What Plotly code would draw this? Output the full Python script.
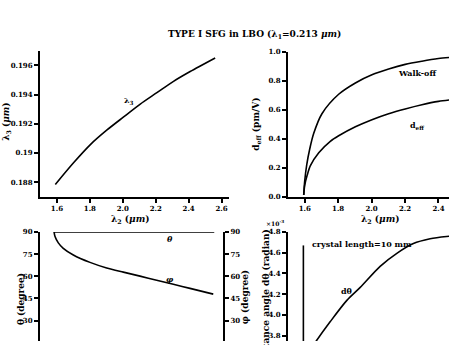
import plotly.graph_objects as go

W, H = 449, 345

# ---------------- data ----------------
# top-left: lambda3 vs lambda2
lam2_a = [1.59, 1.702, 1.803, 1.904, 2.005, 2.106, 2.207, 2.308, 2.409, 2.561]
lam3 = [0.18785, 0.18935, 0.19058, 0.19158, 0.19247, 0.19335, 0.19413, 0.19491, 0.19558, 0.19651]

# top-right: normalised walk-off and d_eff
lam2_w = [1.594, 1.600, 1.612, 1.630, 1.654, 1.703, 1.803, 1.903, 2.002, 2.102, 2.201, 2.301, 2.400, 2.470]
walkoff = [0.013, 0.110, 0.220, 0.330, 0.438, 0.573, 0.707, 0.785, 0.841, 0.881, 0.913, 0.935, 0.953, 0.961]
lam2_d = [1.594, 1.600, 1.615, 1.634, 1.684, 1.753, 1.803, 1.903, 2.002, 2.102, 2.201, 2.301, 2.400, 2.470]
deff = [0.013, 0.080, 0.150, 0.215, 0.304, 0.383, 0.421, 0.483, 0.532, 0.573, 0.606, 0.635, 0.658, 0.668]

# bottom-left: phase matching angles
lam2_t = [1.582, 2.0, 2.553]
theta = [90, 90, 90]
lam2_p = [1.582, 1.588, 1.608, 1.638, 1.699, 1.800, 1.901, 2.002, 2.103, 2.204, 2.305, 2.406, 2.547]
phi = [90, 86.9, 82.6, 78.9, 74.4, 69.4, 65.6, 62.8, 60.1, 57.3, 54.6, 51.8, 47.9]

# bottom-right: acceptance angle (x1e-3 rad)
lam2_v = [1.592, 1.592]
dth_v = [4.67, 3.6]
lam2_dt = [1.64, 1.669, 1.753, 1.852, 1.932, 2.051, 2.151, 2.250, 2.350, 2.449, 2.480]
dtheta = [3.68, 3.75, 3.937, 4.141, 4.266, 4.469, 4.594, 4.688, 4.734, 4.756, 4.760]

tl_x_ticks = [1.6, 1.8, 2.0, 2.2, 2.4, 2.6]
tl_y_ticks = [0.188, 0.19, 0.192, 0.194, 0.196]
tl_y_text = ["0.188", "0.19", "0.192", "0.194", "0.196"]
tr_x_ticks = [1.6, 1.8, 2.0, 2.2, 2.4]
tr_y_ticks = [0.0, 0.2, 0.4, 0.6, 0.8, 1.0]
bl_y_ticks = [30, 45, 60, 75, 90]
br_y_ticks = [3.8, 4.0, 4.2, 4.4, 4.6, 4.8]

# ---------------- helpers ----------------
def fx(px):
    return px / W

def fy(py):
    return 1 - py / H

def bold(vals, fmt="{:.1f}"):
    return ["<b>" + (fmt.format(v) if not isinstance(v, str) else v) + "</b>" for v in vals]

SERIF = "DejaVu Serif"
tickfont = dict(family=SERIF, size=7, color="black")
line = dict(color="black", width=1.6, shape="spline", smoothing=0.8)
sline = dict(color="black", width=1.6)

fig = go.Figure()
fig.add_trace(go.Scatter(x=lam2_a, y=lam3, mode="lines", line=line, xaxis="x", yaxis="y"))
fig.add_trace(go.Scatter(x=lam2_w, y=walkoff, mode="lines", line=line, xaxis="x2", yaxis="y2"))
fig.add_trace(go.Scatter(x=lam2_d, y=deff, mode="lines", line=line, xaxis="x2", yaxis="y2"))
fig.add_trace(go.Scatter(x=lam2_t, y=theta, mode="lines", line=sline, xaxis="x3", yaxis="y3", cliponaxis=False))
fig.add_trace(go.Scatter(x=lam2_p, y=phi, mode="lines", line=line, xaxis="x3", yaxis="y5", cliponaxis=False))
fig.add_trace(go.Scatter(x=lam2_v, y=dth_v, mode="lines", line=sline, xaxis="x4", yaxis="y4"))
fig.add_trace(go.Scatter(x=lam2_dt, y=dtheta, mode="lines", line=line, xaxis="x4", yaxis="y4"))

axcommon = dict(showgrid=False, zeroline=False, showline=True, linecolor="black", linewidth=2,
                ticks="outside", ticklen=4, tickwidth=1.5, tickcolor="black", tickfont=tickfont)

fig.update_layout(
    width=W, height=H, margin=dict(l=0, r=0, t=0, b=0),
    paper_bgcolor="white", plot_bgcolor="white", showlegend=False,
    xaxis=dict(domain=[fx(40), fx(229)], range=[1.497, 2.645], anchor="y",
               tickvals=tl_x_ticks, ticktext=bold(tl_x_ticks), **axcommon),
    yaxis=dict(domain=[fy(197), fy(47)], range=[0.187, 0.197], anchor="x",
               tickvals=tl_y_ticks, ticktext=bold(tl_y_text), **axcommon),
    xaxis2=dict(domain=[fx(288), 1.0], range=[1.5, 2.463], anchor="y2",
                tickvals=tr_x_ticks, ticktext=bold(tr_x_ticks), **axcommon),
    yaxis2=dict(domain=[fy(197), fy(48)], range=[0, 1.0], anchor="x2",
                tickvals=tr_y_ticks, ticktext=bold(tr_y_ticks), **axcommon),
    xaxis3=dict(domain=[fx(40), fx(223)], range=[1.497, 2.606], anchor="y3", visible=False),
    yaxis3=dict(domain=[0, fy(233)], range=[16.2, 90], anchor="x3",
                tickvals=bl_y_ticks, ticktext=bold(bl_y_ticks, "{:d}"), **axcommon),
    yaxis5=dict(domain=[0, fy(233)], range=[16.2, 90], anchor="x3", overlaying="y3", side="right",
                tickvals=bl_y_ticks, ticktext=bold(bl_y_ticks, "{:d}"), **axcommon),
    xaxis4=dict(domain=[fx(288), 1.0], range=[1.5, 2.463], anchor="y4", visible=False),
    yaxis4=dict(domain=[0, fy(233)], range=[3.75, 4.8], anchor="x4",
                tickvals=br_y_ticks, ticktext=bold(br_y_ticks), **axcommon),
)

def paper_ann(text, px, py, size=10, angle=0, xanchor="center", yanchor="middle"):
    fig.add_annotation(text=text, x=fx(px), y=fy(py), xref="paper", yref="paper",
                       showarrow=False, textangle=angle, xanchor=xanchor, yanchor=yanchor,
                       font=dict(family=SERIF, size=size, color="black"))

def data_ann(text, x, y, xr, yr, size=8, xanchor="center"):
    fig.add_annotation(text=text, x=x, y=y, xref=xr, yref=yr, showarrow=False,
                       xanchor=xanchor, yanchor="middle",
                       font=dict(family=SERIF, size=size, color="black"))

paper_ann("<b>TYPE I SFG in LBO (λ<sub>1</sub>=0.213 <i>μm</i>)</b>", 254, 30, size=9)
paper_ann("<b>λ<sub>2</sub> (<i>μm</i>)</b>", 130, 220, size=9)
paper_ann("<b>λ<sub>2</sub> (<i>μm</i>)</b>", 380, 220, size=9)
paper_ann("<b>λ<sub>3</sub> (<i>μm</i>)</b>", 7, 120, size=9, angle=-90)
paper_ann("<b>d<sub>eff</sub> (pm/V)</b>", 257, 123, size=9, angle=-90)
paper_ann("<b>θ (degree)</b>", 21, 302, size=9, angle=-90)
paper_ann("<b>φ (degree)</b>", 245, 300, size=9, angle=-90)
paper_ann("<b>acceptance angle dθ (radian)</b>", 266, 229, size=9, angle=-90, yanchor="top")
paper_ann("<b>×10<sup>-3</sup></b>", 275, 224, size=6)

data_ann("<b>λ<sub>3</sub></b>", 2.038, 0.19358, "x", "y")
data_ann("<b>Walk-off</b>", 2.27, 0.852, "x2", "y2")
data_ann("<b>d<sub>eff</sub></b>", 2.27, 0.495, "x2", "y2")
data_ann("<b><i>θ</i></b>", 2.285, 85.4, "x3", "y3")
data_ann("<b><i>φ</i></b>", 2.285, 58.4, "x3", "y3")
data_ann("<b>dθ</b>", 1.852, 4.235, "x4", "y4")
data_ann("<b>crystal length=10 mm</b>", 1.633, 4.687, "x4", "y4", xanchor="left")

fig.write_html("out.html")
